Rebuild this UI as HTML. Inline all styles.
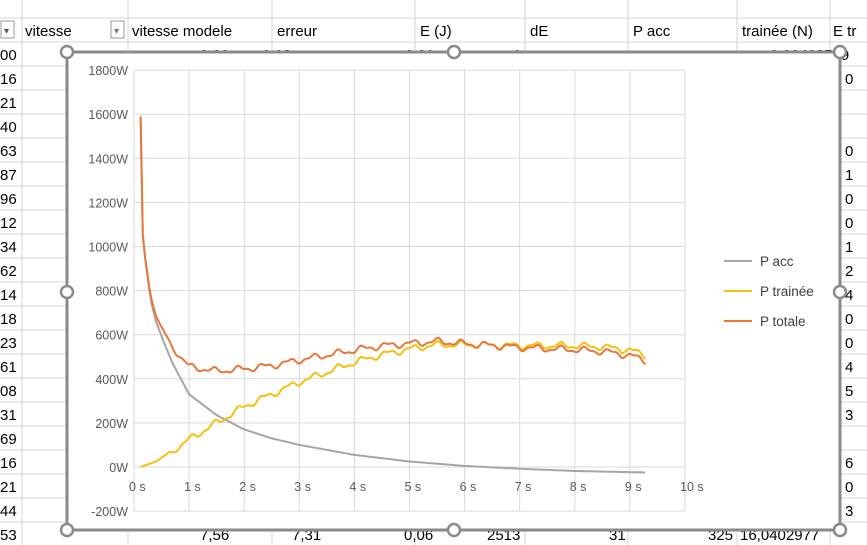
<!DOCTYPE html>
<html><head><meta charset="utf-8">
<style>
body{margin:0;width:867px;height:545px;overflow:hidden;background:#fff;font-family:"Liberation Sans",sans-serif;}
svg{position:absolute;left:0;top:0}
</style></head>
<body>
<svg id="s" width="867" height="545" xmlns="http://www.w3.org/2000/svg" font-family="Liberation Sans, sans-serif">
<g stroke="#d4d4d4" stroke-width="1">
<line x1="0" y1="18" x2="867" y2="18"/>
<line x1="0" y1="42" x2="867" y2="42"/><line x1="0" y1="66" x2="867" y2="66"/><line x1="0" y1="90" x2="867" y2="90"/><line x1="0" y1="114" x2="867" y2="114"/><line x1="0" y1="138" x2="867" y2="138"/><line x1="0" y1="162" x2="867" y2="162"/><line x1="0" y1="186" x2="867" y2="186"/><line x1="0" y1="210" x2="867" y2="210"/><line x1="0" y1="234" x2="867" y2="234"/><line x1="0" y1="258" x2="867" y2="258"/><line x1="0" y1="282" x2="867" y2="282"/><line x1="0" y1="306" x2="867" y2="306"/><line x1="0" y1="330" x2="867" y2="330"/><line x1="0" y1="354" x2="867" y2="354"/><line x1="0" y1="378" x2="867" y2="378"/><line x1="0" y1="402" x2="867" y2="402"/><line x1="0" y1="426" x2="867" y2="426"/><line x1="0" y1="450" x2="867" y2="450"/><line x1="0" y1="474" x2="867" y2="474"/><line x1="0" y1="498" x2="867" y2="498"/><line x1="0" y1="522" x2="867" y2="522"/>
<line x1="22" y1="0" x2="22" y2="545"/><line x1="128" y1="0" x2="128" y2="545"/><line x1="272" y1="0" x2="272" y2="545"/><line x1="415" y1="0" x2="415" y2="545"/><line x1="525" y1="0" x2="525" y2="545"/><line x1="628" y1="0" x2="628" y2="545"/><line x1="737" y1="0" x2="737" y2="545"/><line x1="830" y1="0" x2="830" y2="545"/>
</g>
<g fill="#fff" stroke="#999"><rect x="1" y="21" width="13" height="17"/><rect x="111" y="21" width="13" height="17"/></g>
<text x="4" y="34" font-size="10" fill="#555">▾</text><text x="114" y="34" font-size="10" fill="#777">▾</text>
<g font-size="15" fill="#000">
<text x="25" y="36">vitesse</text><text x="132" y="36">vitesse modele</text><text x="277" y="36">erreur</text><text x="420" y="36">E (J)</text><text x="530" y="36">dE</text><text x="633" y="36">P acc</text><text x="742" y="36">trainée (N)</text><text x="833" y="36">E tr</text>
</g>
<g font-size="15" fill="#000" id="left"></g>
<g font-size="15" fill="#000">
<text x="200" y="60">0,00</text><text x="262" y="60">0,13</text><text x="405" y="60">0,01</text><text x="513" y="60">1</text><text x="770" y="60">0,00402549</text>
<text x="200" y="540">7,56</text><text x="292" y="540">7,31</text><text x="404" y="540">0,06</text><text x="487" y="540">2513</text><text x="609" y="540">31</text><text x="708" y="540">325</text><text x="740" y="540">16,0402977</text>
</g>
<rect x="67" y="52" width="773" height="478" fill="#fff"/>
<g stroke="#d9d9d9" stroke-width="1" id="grid"></g>
<g font-size="12.5" fill="#595959" id="lab"></g>
<g fill="none" stroke-width="2" stroke-linejoin="round">
<polyline id="pa" stroke="#a5a5a5"/>
<polyline id="pt" stroke="#f5c010"/>
<polyline id="po" stroke="#e8773a"/>
</g>
<g font-size="13.5" fill="#404040">
<line x1="724" y1="261" x2="752" y2="261" stroke="#a5a5a5" stroke-width="2"/><text x="760" y="266">P acc</text>
<line x1="724" y1="291" x2="752" y2="291" stroke="#f5c010" stroke-width="2"/><text x="760" y="296">P trainée</text>
<line x1="724" y1="321" x2="752" y2="321" stroke="#e8773a" stroke-width="2"/><text x="760" y="326">P totale</text>
</g>
<rect x="67" y="52" width="773" height="478" fill="none" stroke="#8a8a8a" stroke-width="3"/>
<g fill="#fff" stroke="#8a8a8a" stroke-width="2.5">
<circle cx="67" cy="52" r="6"/><circle cx="454" cy="52" r="6"/><circle cx="840" cy="52" r="6"/>
<circle cx="67" cy="292" r="6"/><circle cx="840" cy="292" r="6"/>
<circle cx="67" cy="530" r="6"/><circle cx="454" cy="530" r="6"/><circle cx="840" cy="530" r="6"/>
</g>
</svg>
<script>
var NS="http://www.w3.org/2000/svg";
function el(p,t,a,txt){var e=document.createElementNS(NS,t);for(var k in a)e.setAttribute(k,a[k]);if(txt!=null)e.textContent=txt;document.getElementById(p).appendChild(e);}
var lv=["00","16","21","40","63","87","96","12","34","62","14","18","23","61","08","31","69","16","21","44","53"];
lv.forEach(function(v,i){if(i>0&&i<20)el("left","text",{x:0,y:60+24*i},v);});
lv.forEach(function(v,i){if(i==0)el("left","text",{x:0,y:60},v);if(i==20)el("left","text",{x:0,y:540},v);});
var rv=["","0","","","0","1","0","0","1","2","4","0","0","4","5","3","","6","0","3",""];
rv.forEach(function(v,i){if(v)el("left","text",{x:845,y:60+24*i},v);});
function X(t){return 134+t*55.1;}function Y(w){return 467-w*0.2205;}
for(var i=0;i<=10;i++){el("grid","line",{x1:X(i),y1:70,x2:X(i),y2:511});el("lab","text",{x:X(i)-5,y:491},i+" s");}
for(var w=-200;w<=1800;w+=200){el("grid","line",{x1:134,y1:Y(w),x2:685,y2:Y(w)});el("lab","text",{x:128,y:Y(w)+5,"text-anchor":"end"},w+"W");}
function interp(pts,t){for(var i=0;i<pts.length-1;i++){if(t<=pts[i+1][0]){var a=pts[i],b=pts[i+1];return a[1]+(b[1]-a[1])*(t-a[0])/(b[0]-a[0]);}}return pts[pts.length-1][1];}
var acc=[[0.12,1590],[0.14,1100],[0.2,950],[0.3,760],[0.4,660],[0.55,560],[0.7,470],[0.85,400],[1,330],[1.5,235],[2,170],[2.5,130],[3,100],[4,55],[5,25],[6,5],[7,-8],[8,-18],[9.3,-25]];
var tr=[[0.12,0],[0.4,25],[0.7,70],[1,125],[1.5,200],[2,275],[2.5,330],[3,385],[3.5,430],[4,475],[4.5,510],[5,535],[5.5,555],[6,555],[7,550],[8,550],[8.5,545],[9,530],[9.3,505]];
var a=[],b=[],c=[];
for(var t=0.12;t<=9.3;t+=0.04){var pa=interp(acc,t);var n=t>0.5?12*Math.sin(t*14)+6*Math.sin(t*31):0;var pt=Math.max(0,interp(tr,t)+n*Math.min(1,t));a.push(X(t).toFixed(1)+","+Y(pa).toFixed(1));b.push(X(t).toFixed(1)+","+Y(pt).toFixed(1));c.push(X(t).toFixed(1)+","+Y(pa+pt).toFixed(1));}
document.getElementById("pa").setAttribute("points",a.join(" "));
document.getElementById("pt").setAttribute("points",b.join(" "));
document.getElementById("po").setAttribute("points",c.join(" "));
</script>
</body></html>
